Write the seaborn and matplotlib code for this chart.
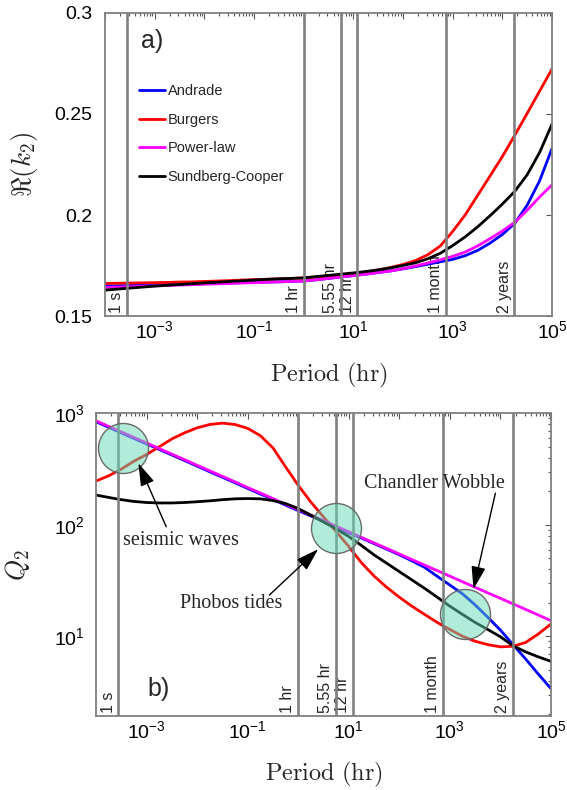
import numpy as np
import pandas as pd
import matplotlib
matplotlib.use("Agg")
import matplotlib.pyplot as plt
import matplotlib.ticker as mticker
import seaborn as sns

sns.set_theme(style="white")
plt.rcParams["font.family"] = ["Liberation Sans", "DejaVu Sans"]
plt.rcParams["mathtext.fontset"] = "custom"
plt.rcParams["mathtext.rm"] = "Liberation Sans"

log_period = np.arange(-4, 5.01, 0.25)
models = ["Andrade", "Burgers", "Power-law", "Sundberg-Cooper"]
colors = ["#0000ff", "#ff0000", "#ff00ff", "#000000"]

# a) real part of k2
andrade_k2 = [0.1650, 0.1652, 0.1653, 0.1655, 0.1656, 0.1658, 0.1659, 0.1661, 0.1662,
              0.1664, 0.1665, 0.1667, 0.1668, 0.1670, 0.1671, 0.1673, 0.1675, 0.1681,
              0.1688, 0.1695, 0.1702, 0.1709, 0.1717, 0.1725, 0.1735, 0.1746, 0.1758,
              0.1770, 0.1782, 0.1800, 0.1826, 0.1862, 0.1905, 0.1960, 0.2050, 0.2170, 0.2330]
burgers_k2 = [0.1663, 0.1664, 0.1665, 0.1666, 0.1667, 0.1668, 0.1670, 0.1671, 0.1673,
              0.1675, 0.1677, 0.1680, 0.1682, 0.1684, 0.1686, 0.1688, 0.1690, 0.1695,
              0.1700, 0.1706, 0.1712, 0.1720, 0.1730, 0.1742, 0.1757, 0.1776, 0.1805,
              0.1848, 0.1920, 0.2001, 0.2097, 0.2193, 0.2290, 0.2395, 0.2503, 0.2613, 0.2722]
powerlaw_k2 = [0.1643, 0.1645, 0.1647, 0.1649, 0.1651, 0.1653, 0.1655, 0.1657, 0.1659,
               0.1661, 0.1663, 0.1665, 0.1667, 0.1669, 0.1671, 0.1673, 0.1675, 0.1681,
               0.1688, 0.1695, 0.1702, 0.1709, 0.1717, 0.1725, 0.1736, 0.1749, 0.1764,
               0.1780, 0.1797, 0.1818, 0.1848, 0.1884, 0.1922, 0.1965, 0.2025, 0.2090, 0.2150]
sundberg_k2 = [0.1630, 0.1635, 0.1640, 0.1645, 0.1650, 0.1654, 0.1658, 0.1662, 0.1666,
               0.1669, 0.1673, 0.1676, 0.1680, 0.1683, 0.1686, 0.1688, 0.1691, 0.1697,
               0.1703, 0.1709, 0.1715, 0.1722, 0.1730, 0.1740, 0.1752, 0.1765, 0.1785,
               0.1812, 0.1850, 0.1893, 0.1942, 0.1997, 0.2055, 0.2118, 0.2200, 0.2310, 0.2450]

# b) Q2
andrade_q = [840, 750, 668, 596, 532, 474, 423, 377, 336, 299, 267, 238, 212, 189, 169,
             150, 134, 120, 107, 95.5, 85, 76, 67.8, 60.5, 53.8, 47.5, 41.5, 34.5, 28.8,
             24.0, 19.1, 14.8, 11.35, 8.4, 6.24, 4.57, 3.39]
burgers_q = [247, 275, 316, 372, 427, 501, 589, 668, 741, 794, 817, 794, 733, 631, 490,
             331, 226, 160, 117.5, 87, 63.8, 45.7, 34.7, 27.5, 22.4, 18.6, 15.7, 13.3,
             11.5, 10.0, 9.02, 8.41, 8.04, 8.13, 8.81, 10.5, 12.9]
powerlaw_q = [857, 764, 681, 608, 542, 483, 431, 384, 342, 305, 272, 243, 216, 193, 172,
              153, 137, 122, 109, 97, 86.5, 77.1, 68.8, 61.4, 54.7, 48.8, 43.5, 38.8,
              34.6, 30.8, 27.5, 24.5, 21.9, 19.5, 17.4, 15.5, 13.8]
sundberg_q = [185, 176, 168, 162, 158.5, 157, 157, 158.5, 161, 164, 168, 171, 172, 171,
              165, 155, 140, 122, 106, 92, 78.5, 65.3, 53.7, 45.2, 38.0, 32.0, 26.9,
              22.4, 18.6, 15.7, 13.3, 11.5, 9.9, 8.2, 7.24, 6.53, 5.96]

# Reference periods (hr) marked with vertical lines
ref_periods = [1 / 3600, 1, 5.55, 12, 730, 17532]
ref_labels = ["1 s", "1 hr", "5.55 hr", "12 hr", "1 month", "2 years"]

# Highlighted regimes in panel b
circle_period = [10 ** -3.46, 10 ** 0.74, 10 ** 3.30]
circle_q = [485, 93, 15.7]
notes = ["seismic waves", "Phobos tides", "Chandler Wobble"]
note_text_xy = [(4.8e-3, 73), (0.0476, 19.8), (484, 235)]
note_tail_xy = [(2.45e-3, 96), (0.268, 23.4), (7943, 192)]
note_head_xy = [(6.9e-4, 357), (2.48, 60.4), (2924, 26.5)]


def long_form(series):
    frames = []
    for name, vals in zip(models, series):
        frames.append(pd.DataFrame({"period": 10 ** log_period, "value": vals, "model": name}))
    return pd.concat(frames, ignore_index=True)


def decade_label(skip_even):
    def fmt(v, pos):
        e = int(round(np.log10(v)))
        if skip_even and e % 2 == 0:
            return ""
        return r"$\mathdefault{10^{%d}}$" % e
    return mticker.FuncFormatter(fmt)


def style_axes(ax):
    ax.set_xscale("log")
    ax.set_xlim(1e-4, 1e5)
    ax.xaxis.set_major_locator(mticker.FixedLocator(10.0 ** np.arange(-4, 6)))
    ax.xaxis.set_minor_locator(mticker.LogLocator(base=10, subs=np.arange(2, 10), numticks=30))
    ax.xaxis.set_major_formatter(decade_label(True))
    ax.xaxis.set_minor_formatter(mticker.NullFormatter())
    for sp in ax.spines.values():
        sp.set_visible(True)
        sp.set_color("#808080")
        sp.set_linewidth(1.3)
    ax.tick_params(which="both", direction="in", top=True, right=True,
                   color="#555555", width=0.8, labelsize=14, labelcolor="black")
    ax.tick_params(which="major", length=4)
    ax.tick_params(which="minor", length=2)
    ax.tick_params(axis="x", pad=3)
    ax.grid(False)
    for p, lab in zip(ref_periods, ref_labels):
        ax.axvline(p, color="#808080", lw=1.9, zorder=3)
        ax.annotate(lab, xy=(p, 0), xycoords=ax.get_xaxis_transform(),
                    xytext=(-2, 2.5), textcoords="offset points", rotation=90,
                    ha="right", va="bottom", fontsize=11.5, zorder=1)


fig = plt.figure(figsize=(5.67, 7.90), dpi=100)
ax1 = fig.add_axes([0.1852, 0.5994, 0.7884, 0.3845])
ax2 = fig.add_axes([0.1693, 0.0937, 0.8025, 0.3831])

# Panel a
df_k2 = long_form([andrade_k2, burgers_k2, powerlaw_k2, sundberg_k2])
sns.lineplot(data=df_k2, x="period", y="value", hue="model", hue_order=models,
             palette=colors, estimator=None, errorbar=None, lw=2, legend=False,
             ax=ax1, zorder=2)
curve_lines = list(ax1.lines[:4])
style_axes(ax1)
ax1.set_ylim(0.15, 0.3)
ax1.set_yticks([0.15, 0.2, 0.25, 0.3])
ax1.set_yticklabels(["0.15", "0.2", "0.25", "0.3"])
ax1.tick_params(axis="y", pad=9)
ax1.set_xlabel(r"$\mathrm{Period\ (hr)}$", fontsize=17.5, math_fontfamily="cm")
ax1.set_ylabel(r"$\Re(k_2)$", fontsize=19.5, math_fontfamily="cm")
ax1.xaxis.set_label_coords(0.5, -0.145)
ax1.yaxis.set_label_coords(-0.146, 0.5)
ax1.text(0.105, 0.907, "a)", transform=ax1.transAxes, fontsize=18,
         ha="center", va="center")
ax1.legend(curve_lines, models, loc="upper left", bbox_to_anchor=(0.075, 0.765),
           frameon=False, fontsize=10.5, handlelength=1.8, handletextpad=0.2,
           labelspacing=1.0, borderpad=0, borderaxespad=0)

# Panel b
df_q = long_form([andrade_q, burgers_q, powerlaw_q, sundberg_q])
sns.lineplot(data=df_q, x="period", y="value", hue="model", hue_order=models,
             palette=colors, estimator=None, errorbar=None, lw=2, legend=False,
             ax=ax2, zorder=2)
ax2.set_yscale("log")
style_axes(ax2)
ax2.set_ylim(10 ** 0.285, 1000)
ax2.yaxis.set_major_locator(mticker.FixedLocator([10, 100, 1000]))
ax2.yaxis.set_minor_locator(mticker.LogLocator(base=10, subs=np.arange(2, 10), numticks=10))
ax2.yaxis.set_major_formatter(decade_label(False))
ax2.yaxis.set_minor_formatter(mticker.NullFormatter())
ax2.tick_params(axis="y", pad=8)
ax2.set_xlabel(r"$\mathrm{Period\ (hr)}$", fontsize=17.5, math_fontfamily="cm")
ax2.set_ylabel(r"$Q_2$", fontsize=19.5, math_fontfamily="cm")
ax2.xaxis.set_label_coords(0.5, -0.145)
ax2.yaxis.set_label_coords(-0.1396, 0.5)
ax2.text(0.1385, 0.089, "b)", transform=ax2.transAxes, fontsize=18,
         ha="center", va="center")

ax2.scatter(circle_period, circle_q, s=1296, marker="o",
            facecolors=[(0.39, 0.86, 0.71, 0.5)], edgecolors="#6a6a6a",
            linewidths=1.0, zorder=4)

for txt, txy, tail, head in zip(notes, note_text_xy, note_tail_xy, note_head_xy):
    ax2.text(txy[0], txy[1], txt, ha="center", va="center", fontsize=14.5,
             family=["Liberation Serif", "DejaVu Serif"], zorder=5)
    ax2.annotate("", xy=head, xytext=tail,
                 arrowprops=dict(arrowstyle="-|>,head_length=0.7,head_width=0.22",
                                 color="black", lw=1, mutation_scale=20,
                                 shrinkA=0, shrinkB=0),
                 zorder=5)

fig.savefig("out.png", dpi=100)
